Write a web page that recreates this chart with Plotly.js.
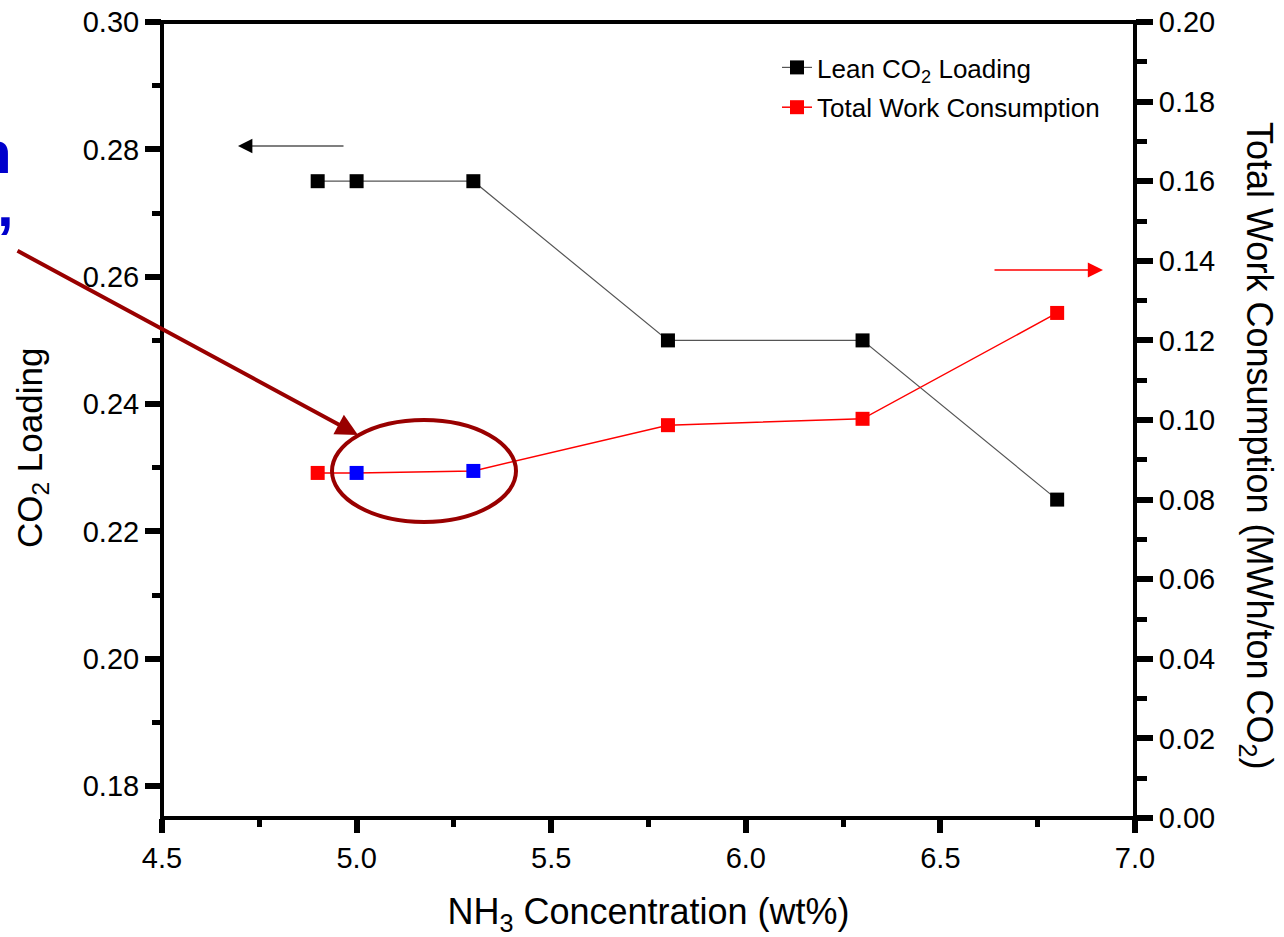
<!DOCTYPE html>
<html>
<head>
<meta charset="utf-8">
<script src="https://cdn.plot.ly/plotly-3.0.1.min.js"></script>
<style>html,body{margin:0;padding:0;background:#fff;}#chart{width:1284px;height:937px;}</style>
</head>
<body>
<div id="chart"></div>
<script>
// Data
var nh3Concentration = [4.9, 5.0, 5.3, 5.8, 6.3, 6.8];
var leanCO2Loading = [0.275, 0.275, 0.275, 0.250, 0.250, 0.225];
var totalWorkConsumption = [0.0867, 0.0867, 0.0872, 0.0987, 0.1003, 0.1269];
var highlightedPoints = [false, true, true, false, false, false];

var seriesNames = ["Lean CO<sub>2</sub> Loading", "Total Work Consumption"];
var xTitle = "NH<sub>3</sub> Concentration (wt%)";
var yTitle = "CO<sub>2</sub> Loading";
var y2Title = "Total Work Consumption (MWh/ton CO<sub>2</sub>)";

var FONT = "Liberation Sans, Arial, sans-serif";
var redColors = highlightedPoints.map(function (h) { return h ? "#0000ff" : "#ff0000"; });

function px(p) { return (p - 162) / 973; }
function py(p) { return (818 - p) / 796; }

var traces = [
  {
    x: nh3Concentration, y: leanCO2Loading, name: seriesNames[0], legendgroup: "g1",
    type: "scatter", mode: "lines+markers", xaxis: "x", yaxis: "y",
    line: { color: "#555555", width: 1.2 },
    marker: { symbol: "square", size: 14, color: "#000000" }
  },
  {
    x: nh3Concentration, y: totalWorkConsumption, name: seriesNames[1], legendgroup: "g2",
    type: "scatter", mode: "lines+markers", xaxis: "x", yaxis: "y2",
    line: { color: "#ff0000", width: 1.5 },
    marker: { symbol: "square", size: 14, color: redColors }
  }
];

var tickFont = { family: FONT, size: 29, color: "#000" };
var TW = 6, MTW = 5;

var layout = {
  width: 1284, height: 937,
  margin: { l: 162, r: 149, t: 22, b: 119 },
  paper_bgcolor: "#fff", plot_bgcolor: "#fff",
  showlegend: true,
  legend: {
    x: px(777), y: py(44), xanchor: "left", yanchor: "top",
    bgcolor: "rgba(0,0,0,0)", font: { family: FONT, size: 26, color: "#000" },
    tracegroupgap: 3
  },
  xaxis: {
    range: [4.5, 7.0], dtick: 0.5, tick0: 4.5, tickformat: ".1f",
    showgrid: false, zeroline: false, showline: false,
    ticks: "outside", ticklen: 14, tickwidth: TW, tickcolor: "#000",
    minor: { dtick: 0.25, ticks: "outside", ticklen: 8, tickwidth: MTW, tickcolor: "#000", showgrid: false },
    tickfont: tickFont,
    title: { text: xTitle, font: { family: FONT, size: 36, color: "#000" }, standoff: 28 }
  },
  xaxis2: {
    overlaying: "x", side: "top", range: [4.5, 7.0], dtick: 0.5, tick0: 4.5,
    showgrid: false, zeroline: false, showticklabels: false, showline: false,
    ticks: "inside", ticklen: 15, tickwidth: TW, tickcolor: "#000",
    minor: { dtick: 0.25, ticks: "inside", ticklen: 9, tickwidth: MTW, tickcolor: "#000", showgrid: false }
  },
  yaxis: {
    range: [0.175, 0.30], dtick: 0.02, tick0: 0.18, tickformat: ".2f",
    showgrid: false, zeroline: false, showline: false,
    ticks: "outside", ticklen: 16, tickwidth: TW, tickcolor: "#000",
    minor: { dtick: 0.01, tick0: 0.18, ticks: "outside", ticklen: 9, tickwidth: MTW, tickcolor: "#000", showgrid: false },
    tickfont: tickFont
  },
  yaxis2: {
    overlaying: "y", side: "right", anchor: "x",
    range: [0, 0.20], dtick: 0.02, tick0: 0, tickformat: ".2f",
    showgrid: false, zeroline: false, showline: false,
    ticks: "outside", ticklen: 17, tickwidth: TW, tickcolor: "#000",
    minor: { dtick: 0.01, ticks: "outside", ticklen: 11, tickwidth: MTW, tickcolor: "#000", showgrid: false },
    tickfont: tickFont
  },
  shapes: [
    { type: "rect", xref: "paper", yref: "paper", x0: 0, x1: 1, y0: 0, y1: 1,
      line: { color: "#000", width: 4 }, layer: "above" },
    { type: "circle", xref: "paper", yref: "paper",
      x0: px(332), x1: px(516), y0: py(522), y1: py(420),
      line: { color: "#990000", width: 4 } }
  ],
  annotations: [
    { xref: "paper", yref: "paper", x: px(32), y: py(448), xanchor: "center", yanchor: "middle",
      showarrow: false, textangle: -90, text: yTitle,
      font: { family: FONT, size: 35, color: "#000" } },
    { xref: "paper", yref: "paper", x: px(1257), y: py(446), xanchor: "center", yanchor: "middle",
      showarrow: false, textangle: 90, text: y2Title,
      font: { family: FONT, size: 36, color: "#000" } },
    { xref: "paper", yref: "paper", x: px(358), y: py(435), ax: -342, ay: -185,
      showarrow: true, arrowhead: 2, arrowsize: 1.1, arrowwidth: 4, arrowcolor: "#990000", text: "" },
    { xref: "paper", yref: "paper", x: px(238), y: py(146), ax: 107, ay: 0,
      showarrow: true, arrowhead: 2, arrowsize: 2.4, arrowwidth: 1.2, arrowcolor: "#000", text: "" },
    { xref: "paper", yref: "paper", x: px(1103), y: py(270), ax: -110, ay: 0,
      showarrow: true, arrowhead: 2, arrowsize: 1.9, arrowwidth: 1.6, arrowcolor: "#ff0000", text: "" },
    { xref: "paper", yref: "paper", x: px(14), y: py(152),
      xanchor: "right", yanchor: "middle", showarrow: false,
      text: "<b>n</b>", font: { family: FONT, size: 60, color: "#0000cc" } },
    { xref: "paper", yref: "paper", x: px(16), y: py(205),
      xanchor: "right", yanchor: "middle", showarrow: false,
      text: "<b>,</b>", font: { family: FONT, size: 60, color: "#0000cc" } }
  ]
};

Plotly.newPlot("chart", traces, layout, { displayModeBar: false, staticPlot: true });
</script>
</body>
</html>
